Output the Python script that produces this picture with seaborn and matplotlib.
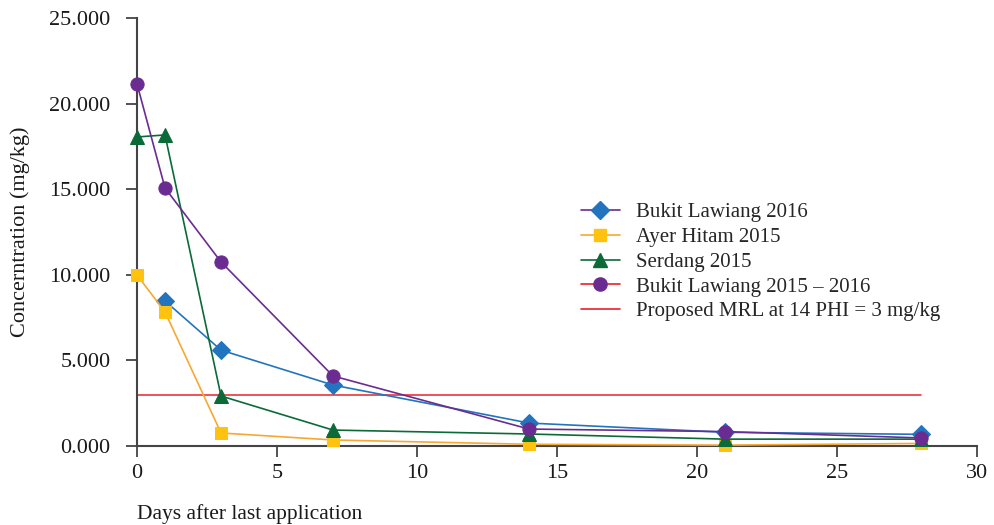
import matplotlib
matplotlib.use("Agg")
import matplotlib.pyplot as plt
from matplotlib.lines import Line2D
from matplotlib.ticker import FormatStrFormatter
import seaborn as sns
import pandas as pd

days = [0, 1, 3, 7, 14, 21, 28]
bukit_2016 = [None, 8.47, 5.60, 3.56, 1.34, 0.80, 0.68]
ayer_hitam_2015 = [9.99, 7.83, 0.76, 0.35, 0.10, 0.05, 0.15]
serdang_2015 = [18.05, 18.17, 2.92, 0.93, 0.70, 0.40, 0.40]
bukit_2015_2016 = [21.15, 15.07, 10.75, 4.09, 0.99, 0.84, 0.47]
mrl = 3.0
mrl_days = [0, 28]

labels = ["Bukit Lawiang 2016", "Ayer Hitam 2015", "Serdang 2015",
          "Bukit Lawiang 2015 \u2013 2016", "Proposed MRL at 14 PHI = 3 mg/kg"]

sns.set_theme(style="ticks")
plt.rcParams["font.family"] = ["Liberation Serif", "DejaVu Serif"]

fig = plt.figure(figsize=(9.95, 5.25), dpi=100)
ax = fig.add_axes([0.1377, 0.1505, 0.8443, 0.8152])

BLUE, ORANGE, YELLOW = "#2174BD", "#F7A833", "#FFC20E"
GREEN, PURPLE, RED = "#0B6B38", "#6A2C91", "#E8202A"

series = [
    (bukit_2016, BLUE, BLUE, "D", 9),
    (ayer_hitam_2015, ORANGE, YELLOW, "s", 9),
    (serdang_2015, GREEN, GREEN, "^", 9.5),
    (bukit_2015_2016, PURPLE, PURPLE, "o", 9.5),
]

for vals, lc, mc, mk, ms in series:
    df = pd.DataFrame({"day": days, "conc": vals}).dropna()
    sns.lineplot(data=df, x="day", y="conc", ax=ax, color=lc, lw=1.2,
                 marker=mk, markersize=ms, markerfacecolor=mc,
                 markeredgecolor=mc, legend=False, zorder=3)

df_mrl = pd.DataFrame({"day": mrl_days, "conc": [mrl, mrl]})
sns.lineplot(data=df_mrl, x="day", y="conc", ax=ax, color=RED,
             lw=1.1, legend=False, zorder=2)

ax.set_xlim(0, 30)
ax.set_ylim(0, 25)
ax.set_xticks(range(0, 31, 5))
ax.set_yticks(range(0, 26, 5))
ax.yaxis.set_major_formatter(FormatStrFormatter("%.3f"))
for m in ax.lines:
    m.set_clip_on(False)

sns.despine(ax=ax)
for s in ("left", "bottom"):
    ax.spines[s].set_color("#444444")
    ax.spines[s].set_linewidth(1.5)
ax.tick_params(axis="both", direction="out", length=8, width=1.3,
               color="#444444", labelsize=16, labelcolor="#1a1a1a")
ax.tick_params(axis="y", pad=11)
ax.tick_params(axis="x", pad=5)

ax.set_ylabel("Concerntration (mg/kg)", fontsize=16, color="#1a1a1a")
ax.yaxis.set_label_coords(-0.127, 0.5)
ax.set_xlabel("Days after last application", fontsize=15.5, color="#1a1a1a",
              loc="left", labelpad=15)

handles = [
    Line2D([], [], color=PURPLE, lw=1.2, marker="D", ms=9,
           markerfacecolor=BLUE, markeredgecolor=BLUE),
    Line2D([], [], color=ORANGE, lw=1.2, marker="s", ms=9,
           markerfacecolor=YELLOW, markeredgecolor=YELLOW),
    Line2D([], [], color=GREEN, lw=1.2, marker="^", ms=9.5,
           markerfacecolor=GREEN, markeredgecolor=GREEN),
    Line2D([], [], color=RED, lw=1.2, marker="o", ms=9.5,
           markerfacecolor=PURPLE, markeredgecolor=PURPLE),
    Line2D([], [], color=RED, lw=1.2),
]
ax.legend(handles, labels, loc="upper left", bbox_to_anchor=(0.518, 0.588),
          frameon=False, fontsize=15, handlelength=1.9, handletextpad=0.75,
          labelspacing=0.25, borderaxespad=0)

fig.savefig("out.png", dpi=100)
